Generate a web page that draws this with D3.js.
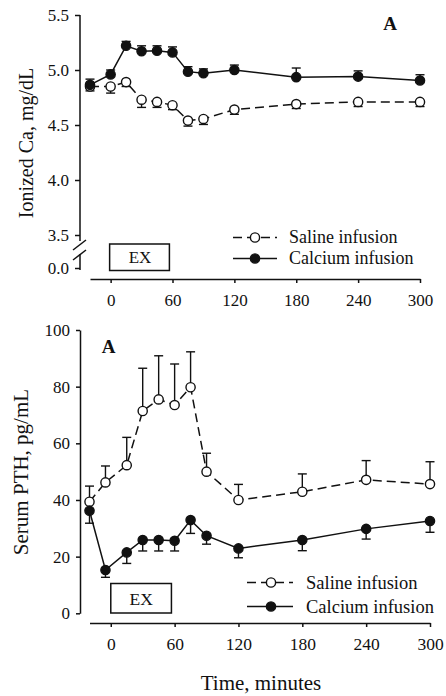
<!DOCTYPE html>
<html>
<head>
<meta charset="utf-8">
<script src="https://cdn.jsdelivr.net/npm/d3@7"></script>
<style>
  html, body { margin: 0; padding: 0; background: #fff; }
  svg { display: block; }
  text { font-family: "Liberation Serif", "Times New Roman", serif; fill: #111; }
</style>
</head>
<body>
<svg id="chart" width="446" height="696"></svg>
<script>
// Sampling times (minutes relative to start of exercise)
const timesCa  = [-20, 0, 15, 30, 45, 60, 75, 90, 120, 180, 240, 300];
const timesPth = [-20, -5, 15, 30, 45, 60, 75, 90, 120, 180, 240, 300];

// Ionized calcium, mg/dL (mean and SE)
const caSaline     = [4.85, 4.85, 4.89, 4.73, 4.71, 4.68, 4.54, 4.555, 4.64, 4.69, 4.71, 4.71];
const caSalineErr  = [0.04, 0.06, 0.04, 0.07, 0.05, 0.04, 0.05, 0.05, 0.043, 0.04, 0.042, 0.042];
const caCalcium    = [4.865, 4.96, 5.22, 5.17, 5.175, 5.16, 4.985, 4.97, 5.0, 4.935, 4.94, 4.905];
const caCalciumErr = [0.052, 0.04, 0.04, 0.05, 0.045, 0.05, 0.045, 0.04, 0.045, 0.083, 0.052, 0.052];

// Serum PTH, pg/mL (mean and SE)
const pthSaline     = [39.4, 46.2, 52.3, 71.4, 75.5, 73.5, 79.8, 50.0, 40.0, 42.9, 47.1, 45.6];
const pthSalineErr  = [5.5, 5.8, 9.8, 15.1, 15.4, 14.5, 12.5, 6.5, 5.5, 6.3, 6.8, 7.9];
const pthCalcium    = [36.2, 15.3, 21.5, 25.9, 25.9, 25.6, 32.9, 27.4, 22.9, 25.9, 29.8, 32.6];
const pthCalciumErr = [4.4, 2.6, 3.9, 3.9, 3.9, 3.6, 4.7, 3.0, 3.3, 3.8, 3.6, 4.0];

// Axis ticks and labels
const xTicks     = [0, 60, 120, 180, 240, 300];
const caTicks    = [0, 3.5, 4.0, 4.5, 5.0, 5.5];
const pthTicks   = [0, 20, 40, 60, 80, 100];
const exPeriod   = [0, 57];   // exercise bout, minutes
const seriesNames = ["Saline infusion", "Calcium infusion"];

const svg = d3.select("#chart");

function zip(t, v, e) { return t.map((d, i) => ({ t: d, v: v[i], e: e[i] })); }

function drawSeries(g, x, y, data, opts) {
  // error bars (one-sided)
  const eb = g.append("g");
  data.forEach(d => {
    const y0 = y(d.v), y1 = y(d.v + opts.dir * d.e);
    eb.append("line").attr("x1", x(d.t)).attr("x2", x(d.t)).attr("y1", y0).attr("y2", y1)
      .attr("stroke", "#111").attr("stroke-width", 1.4);
    eb.append("line").attr("x1", x(d.t) - 4.5).attr("x2", x(d.t) + 4.5).attr("y1", y1).attr("y2", y1)
      .attr("stroke", "#111").attr("stroke-width", 1.4);
  });
  g.append("path").datum(data)
    .attr("d", d3.line().x(d => x(d.t)).y(d => y(d.v)))
    .attr("fill", "none").attr("stroke", "#111").attr("stroke-width", 1.5)
    .attr("stroke-dasharray", opts.dashed ? "9,5" : null);
  g.append("g").selectAll("circle").data(data).join("circle")
    .attr("cx", d => x(d.t)).attr("cy", d => y(d.v)).attr("r", 4.6)
    .attr("fill", opts.filled ? "#111" : "#fff")
    .attr("stroke", "#111").attr("stroke-width", 1.4);
}

function drawLegend(g, x0, x1, xc, ys, xt, fs) {
  ys.forEach((yy, i) => {
    const filled = i === 1;
    g.append("line").attr("x1", x0).attr("x2", x1).attr("y1", yy).attr("y2", yy)
      .attr("stroke", "#111").attr("stroke-width", 1.5)
      .attr("stroke-dasharray", filled ? null : "9,5");
    g.append("circle").attr("cx", xc).attr("cy", yy).attr("r", 4.6)
      .attr("fill", filled ? "#111" : "#fff").attr("stroke", "#111").attr("stroke-width", 1.4);
    g.append("text").attr("x", xt).attr("y", yy).attr("dy", "0.33em")
      .attr("font-size", fs).text(seriesNames[i]);
  });
}

function styleAxis(sel, fs) {
  sel.selectAll("path.domain").attr("stroke", "#111").attr("stroke-width", 1.5);
  sel.selectAll(".tick line").attr("stroke", "#111").attr("stroke-width", 1.5);
  sel.selectAll(".tick text").attr("font-size", fs).attr("font-family", "Liberation Serif, Times New Roman, serif").attr("fill", "#111");
}

/* ---------- Panel 1: ionized calcium ---------- */
{
  const g = svg.append("g");
  const x = d3.scaleLinear().domain([-20, 300]).range([90, 420]);
  // broken axis: 0.0 sits just below the 3.5–5.5 segment
  const y = d3.scaleLinear().domain([0, 3.5, 5.5]).range([268, 235, 15]);

  const yAxis = g.append("g").attr("transform", "translate(80,0)")
    .call(d3.axisLeft(y).tickValues(caTicks).tickFormat(d3.format(".1f")).tickSize(5).tickPadding(6));
  yAxis.select("path.domain").remove();
  styleAxis(yAxis, 17);
  // axis line with break marks
  const axl = g.append("g").attr("stroke", "#111").attr("stroke-width", 1.5).attr("fill", "none");
  axl.append("line").attr("x1", 80).attr("x2", 80).attr("y1", y(5.5)).attr("y2", 241);
  axl.append("line").attr("x1", 80).attr("x2", 80).attr("y1", 254).attr("y2", 270);
  axl.append("line").attr("x1", 73).attr("y1", 250).attr("x2", 86).attr("y2", 240);
  axl.append("line").attr("x1", 73).attr("y1", 260).attr("x2", 86).attr("y2", 250);

  const xAxis = g.append("g").attr("transform", "translate(0,279)")
    .call(d3.axisBottom(x).tickValues(xTicks).tickSize(4).tickSizeOuter(0).tickPadding(11));
  styleAxis(xAxis, 17);

  drawSeries(g, x, y, zip(timesCa, caSaline, caSalineErr), { dashed: true, filled: false, dir: -1 });
  drawSeries(g, x, y, zip(timesCa, caCalcium, caCalciumErr), { dashed: false, filled: true, dir: 1 });

  // exercise box
  g.append("rect").attr("x", x(exPeriod[0]) - 1).attr("y", 244)
    .attr("width", x(exPeriod[1]) - x(exPeriod[0]) + 1).attr("height", 26.5)
    .attr("fill", "#fff").attr("stroke", "#111").attr("stroke-width", 1.5);
  g.append("text").attr("x", (x(exPeriod[0]) + x(exPeriod[1])) / 2).attr("y", 257.5).attr("dy", "0.35em")
    .attr("text-anchor", "middle").attr("font-size", 17).text("EX");

  drawLegend(g, 233, 277, 255, [237.5, 258.5], 289, 18);

  g.append("text").attr("x", 390).attr("y", 30).attr("text-anchor", "middle")
    .attr("font-size", 19).attr("font-weight", "bold").text("A");

  g.append("text").attr("transform", "translate(26,143) rotate(-90)")
    .attr("text-anchor", "middle").attr("dy", "0.35em").attr("font-size", 20).text("Ionized Ca, mg/dL");
}

/* ---------- Panel 2: serum PTH ---------- */
{
  const g = svg.append("g");
  const x = d3.scaleLinear().domain([-20, 300]).range([89.5, 430]);
  const y = d3.scaleLinear().domain([0, 100]).range([613.3, 330]);

  const yAxis = g.append("g").attr("transform", "translate(80,0)")
    .call(d3.axisLeft(y).tickValues(pthTicks).tickSize(4).tickSizeOuter(0).tickPadding(6));
  styleAxis(yAxis, 17);

  const xAxis = g.append("g").attr("transform", "translate(0,623)")
    .call(d3.axisBottom(x).tickValues(xTicks).tickSize(4).tickSizeOuter(0).tickPadding(11));
  styleAxis(xAxis, 17.5);

  drawSeries(g, x, y, zip(timesPth, pthSaline, pthSalineErr), { dashed: true, filled: false, dir: 1 });
  drawSeries(g, x, y, zip(timesPth, pthCalcium, pthCalciumErr), { dashed: false, filled: true, dir: -1 });

  g.append("rect").attr("x", x(exPeriod[0])).attr("y", 583.5)
    .attr("width", x(exPeriod[1]) - x(exPeriod[0])).attr("height", 29.5)
    .attr("fill", "#fff").attr("stroke", "#111").attr("stroke-width", 1.5);
  g.append("text").attr("x", (x(exPeriod[0]) + x(exPeriod[1])) / 2).attr("y", 598.5).attr("dy", "0.35em")
    .attr("text-anchor", "middle").attr("font-size", 17.5).text("EX");

  drawLegend(g, 247, 293, 271, [582.5, 606.5], 306, 18.5);

  g.append("text").attr("x", 108.5).attr("y", 353).attr("text-anchor", "middle")
    .attr("font-size", 19).attr("font-weight", "bold").text("A");

  g.append("text").attr("transform", "translate(21,472) rotate(-90)")
    .attr("text-anchor", "middle").attr("dy", "0.35em").attr("font-size", 21).text("Serum PTH, pg/mL");

  g.append("text").attr("x", 261).attr("y", 683).attr("dy", "0.35em")
    .attr("text-anchor", "middle").attr("font-size", 21).text("Time, minutes");
}
</script>
</body>
</html>
